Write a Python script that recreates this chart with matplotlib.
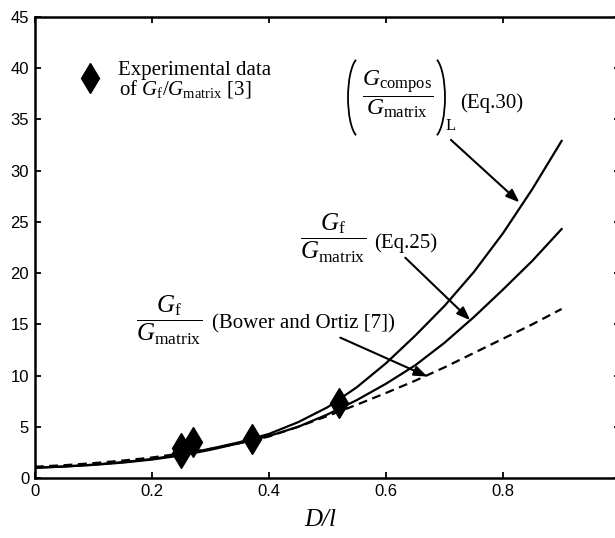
import numpy as np
import matplotlib
matplotlib.use("Agg")
import matplotlib.pyplot as plt
from matplotlib.patches import Arc

plt.rcParams['font.family'] = 'Liberation Sans'
plt.rcParams['mathtext.fontset'] = 'custom'
plt.rcParams['mathtext.rm'] = 'Liberation Serif'
plt.rcParams['mathtext.it'] = 'Liberation Serif:italic'
plt.rcParams['mathtext.bf'] = 'Liberation Serif:bold'

d_over_l = [0, 0.05, 0.1, 0.15, 0.2, 0.25, 0.3, 0.35, 0.4, 0.45,
            0.5, 0.55, 0.6, 0.65, 0.7, 0.75, 0.8, 0.85, 0.9]
# (G_compos/G_matrix)_L  Eq.30
eq30 = [1.0, 1.12, 1.3, 1.55, 1.85, 2.3, 2.85, 3.5, 4.3, 5.45,
        6.9, 8.85, 11.2, 13.9, 16.8, 20.1, 23.9, 28.2, 32.9]
# Gf/Gmatrix  Eq.25
eq25 = [1.0, 1.12, 1.28, 1.5, 1.8, 2.2, 2.75, 3.4, 4.1, 5.0,
        6.2, 7.6, 9.2, 11.0, 13.2, 15.7, 18.4, 21.2, 24.3]
# Bower and Ortiz [7]
bower = [1.1, 1.25, 1.45, 1.7, 2.0, 2.4, 2.85, 3.4, 4.05, 5.0,
         6.05, 7.15, 8.3, 9.5, 10.8, 12.2, 13.6, 15.0, 16.5]

# experimental data [3]
exp_x = [0.25, 0.25, 0.27, 0.372, 0.519]
exp_y = [2.4, 2.9, 3.5, 3.8, 7.3]

fig = plt.figure(figsize=(6.15, 5.38), dpi=100)
ax = fig.add_axes([0.0564, 0.1115, 0.952, 0.857])

ax.plot(d_over_l, eq30, color='k', lw=1.6)
ax.plot(d_over_l, eq25, color='k', lw=1.6)
ax.plot(d_over_l, bower, color='k', lw=1.6, ls=(0, (4, 2.5)))
ax.plot(exp_x, exp_y, ls='none', marker='d', ms=15, color='k')

ax.set_xlim(0, 1)
ax.set_ylim(0, 45)
ax.set_xticks([0, 0.2, 0.4, 0.6, 0.8, 1.0])
ax.set_xticklabels(['0', '0.2', '0.4', '0.6', '0.8', ''])
ax.set_yticks(range(0, 46, 5))
ax.tick_params(direction='in', length=4, width=1.3, labelsize=12,
               top=True, right=True, pad=4)
for s in ax.spines.values():
    s.set_linewidth(1.8)

serif = 'Liberation Serif'
fs = 15
ffs = 18  # fractions

# legend-like label for the data
ax.plot([0.0946], [39.06], marker='d', ms=15, color='k', clip_on=False)
ax.text(0.1425, 39.8, 'Experimental data', family=serif, fontsize=fs,
        ha='left', va='center')
ax.text(0.1445, 38.0, r'of $G_{\mathrm{f}}/G_{\mathrm{matrix}}$ [3]',
        family=serif, fontsize=fs, ha='left', va='center')

# Eq.30 label: fraction, tall parentheses (drawn in inches), subscript L
ax.text(0.619, 37.5, r'$\dfrac{G_{\mathrm{compos}}}{G_{\mathrm{matrix}}}$',
        fontsize=17, ha='center', va='center')
fig.add_artist(Arc((3.60, 4.405), 0.24, 0.80, theta1=96, theta2=264,
                   lw=1.3, color='k', transform=fig.dpi_scale_trans))
fig.add_artist(Arc((4.33, 4.405), 0.24, 0.80, theta1=-84, theta2=84,
                   lw=1.3, color='k', transform=fig.dpi_scale_trans))
ax.text(0.702, 34.4, 'L', family=serif, fontsize=12, ha='left', va='center')
ax.text(0.727, 36.6, '(Eq.30)', family=serif, fontsize=fs,
        ha='left', va='center')

# Eq.25 label
ax.text(0.4535, 23.4, r'$\dfrac{G_{\mathrm{f}}}{G_{\mathrm{matrix}}}$',
        fontsize=ffs, ha='left', va='center')
ax.text(0.579, 22.9, '(Eq.25)', family=serif, fontsize=fs,
        ha='left', va='center')

# Bower and Ortiz label
ax.text(0.173, 15.4, r'$\dfrac{G_{\mathrm{f}}}{G_{\mathrm{matrix}}}$',
        fontsize=ffs, ha='left', va='center')
ax.text(0.303, 15.0, '(Bower and Ortiz [7])', family=serif, fontsize=fs,
        ha='left', va='center')

arrow = dict(arrowstyle='-|>,head_length=0.8,head_width=0.3', color='k',
             lw=1.5, shrinkA=0, shrinkB=0)
ax.annotate('', xy=(0.828, 26.9), xytext=(0.711, 33.0), arrowprops=arrow)
ax.annotate('', xy=(0.744, 15.4), xytext=(0.633, 21.5), arrowprops=arrow)
ax.annotate('', xy=(0.671, 9.9), xytext=(0.522, 13.7), arrowprops=arrow)

fig.text(320 / 615, 1 - 520 / 538, 'D/l', family=serif, style='italic',
         fontsize=18, ha='center', va='center')

fig.savefig('out.png', dpi=100)
